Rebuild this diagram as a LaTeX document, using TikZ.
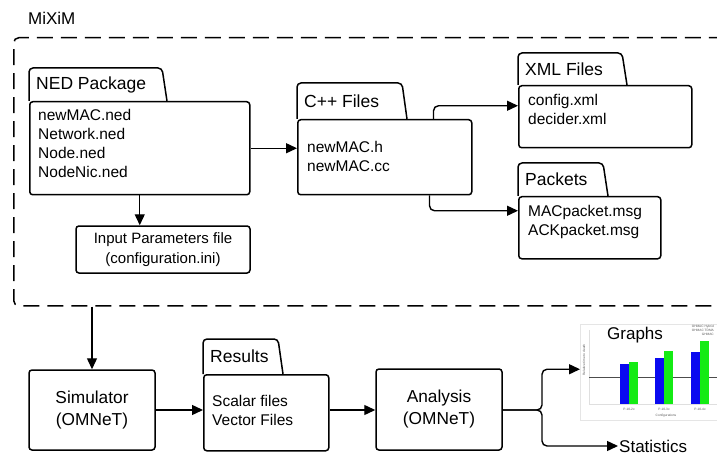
\documentclass[tikz,border=0pt]{standalone}
\usepackage{fontspec}
\setmainfont{Liberation Sans}
\usetikzlibrary{arrows.meta}

\definecolor{barblue}{RGB}{10,10,240}
\definecolor{bargreen}{RGB}{20,235,20}

\newcommand{\foldertab}[4]{%
  \draw[box,rounded corners=4pt] (#1.north west) -- ++(0pt,#3) -- ++(#2,0pt) -- ++(5pt,-#3);
  \node[tabtitle,anchor=west] (#1title) at ([xshift=7pt,yshift=#3/2]#1.north west) {#4};
}

\begin{document}
\begin{tikzpicture}[x=1pt,y=-1pt]
\tikzstyle{box}=[draw,line width=1.5pt]
\tikzstyle{body}=[box,rounded corners=3pt,anchor=north west,inner sep=0pt]
\tikzstyle{ftext}=[anchor=north west,inner sep=0pt,align=left,font=\fontsize{15.5}{19}\selectfont]
\tikzstyle{tabtitle}=[inner sep=0pt,font=\fontsize{17.5}{21}\selectfont]
\tikzstyle{tool}=[box,rounded corners=3pt,align=center,font=\fontsize{17.3}{22}\selectfont]
\tikzstyle{conn}=[line width=1.4pt,-{Triangle[length=11pt,width=10pt]},rounded corners=5pt]
\tikzstyle{tiny}=[inner sep=0pt,text=gray!70!black,font=\fontsize{3.2}{4}\selectfont]
\useasboundingbox (0,0) rectangle (717,457);

\node[draw,line width=1.5pt,dash pattern=on 16pt off 8pt,rounded corners=5pt,anchor=north west,
  inner sep=0pt,minimum width=740,minimum height=268] (mixim) at (13,37) {};
\node[anchor=west,inner sep=0pt,font=\fontsize{17}{20}\selectfont] (miximtitle) at (28,18) {MiXiM};

\node[body,minimum width=220,minimum height=93] (ned) at (29,101) {};
\foldertab{ned}{133pt}{33pt}{NED Package}
\node[ftext] (nedfiles) at ([shift={(9pt,-8pt)}]ned.north west) {newMAC.ned\\Network.ned\\Node.ned\\NodeNic.ned};

\node[body,minimum width=174,minimum height=75] (cpp) at (297,119) {};
\foldertab{cpp}{105pt}{36pt}{C++ Files}
\node[ftext] (cppfiles) at ([shift={(10pt,-22pt)}]cpp.north west) {newMAC.h\\newMAC.cc};

\node[body,minimum width=173,minimum height=62] (xml) at (518,85) {};
\foldertab{xml}{104pt}{32pt}{XML Files}
\node[ftext] (xmlfiles) at ([shift={(10pt,-9pt)}]xml.north west) {config.xml\\decider.xml};

\node[body,minimum width=142,minimum height=62] (pkt) at (518,196) {};
\foldertab{pkt}{85pt}{33pt}{Packets}
\node[ftext] (pktfiles) at ([shift={(10pt,-9pt)}]pkt.north west) {MACpacket.msg\\ACKpacket.msg};

\node[tool,font=\fontsize{15}{20}\selectfont,minimum width=174,minimum height=47] (inp) at (163,249.5)
  {Input Parameters file\\(configuration.ini)};

\node[tool,minimum width=126,minimum height=80] (sim) at (92,410) {Simulator\\(OMNeT)};

\node[body,minimum width=125,minimum height=76] (res) at (203,374) {};
\foldertab{res}{75pt}{35pt}{Results}
\node[ftext] (resfiles) at ([shift={(9pt,-21pt)}]res.north west) {Scalar files\\Vector Files};

\node[tool,minimum width=126,minimum height=81] (ana) at (439,409.5) {Analysis\\(OMNeT)};

\node[draw=gray!20,line width=0.5pt,anchor=north west,inner sep=0pt,minimum width=137,minimum height=96] (graph) at (580,324) {};
\draw[gray!25,line width=0.4pt] (589,330) -- (589,404) -- (717,404);
\draw[gray!60!black,line width=0.6pt] (589,377) -- (717,377);
\foreach \x/\b/\g in {620/364/362,655/358/351,691/352/341} {
  \fill[barblue] (\x,404) rectangle (\x+9,\b);
  \fill[bargreen] (\x+9,404) rectangle (\x+18,\g);
}
\foreach \x/\t in {629/P-10-2x,664/P-10-3x,700/P-10-4x}
  \node[tiny] at (\x,409) {\t};
\node[tiny] (graphxlabel) at (666,416) {Configurations};
\node[tiny,rotate=90] (graphylabel) at (584,360) {Relative time to death};
\node[tiny,align=right,anchor=north east] (graphlegend) at (714,325) {OHMAC Hybrid\\OHMAC TDMA\\GHMAC};
\node[anchor=west,inner sep=0pt,font=\fontsize{17}{20}\selectfont] (graphtitle) at (607,335) {Graphs};

\node[anchor=west,inner sep=1pt,font=\fontsize{17}{20}\selectfont] (stats) at (618,446) {Statistics};
\coordinate (split) at (542,410);

\draw[conn] (ned.east) -- (ned.east -| cpp.west);
\draw[conn] ([xshift=-39pt]cpp.north east) |- ([yshift=11pt]xml.west);
\draw[conn] ([xshift=-43pt]cpp.south east) |- ([yshift=17pt]pkt.west);
\draw[conn] (ned.south) -- (ned.south |- inp.north);
\draw[conn] (mixim.south -| sim.north) -- (sim.north);
\draw[conn] (sim.east) -- (sim.east -| res.west);
\draw[conn] (sim.east -| res.east) -- (sim.east -| ana.west);
\draw[conn] (ana.east |- split) -- (split) |- ([yshift=3pt]graph.west);
\draw[conn] (ana.east |- split) -- (split) |- (stats.west);
\end{tikzpicture}
\end{document}
